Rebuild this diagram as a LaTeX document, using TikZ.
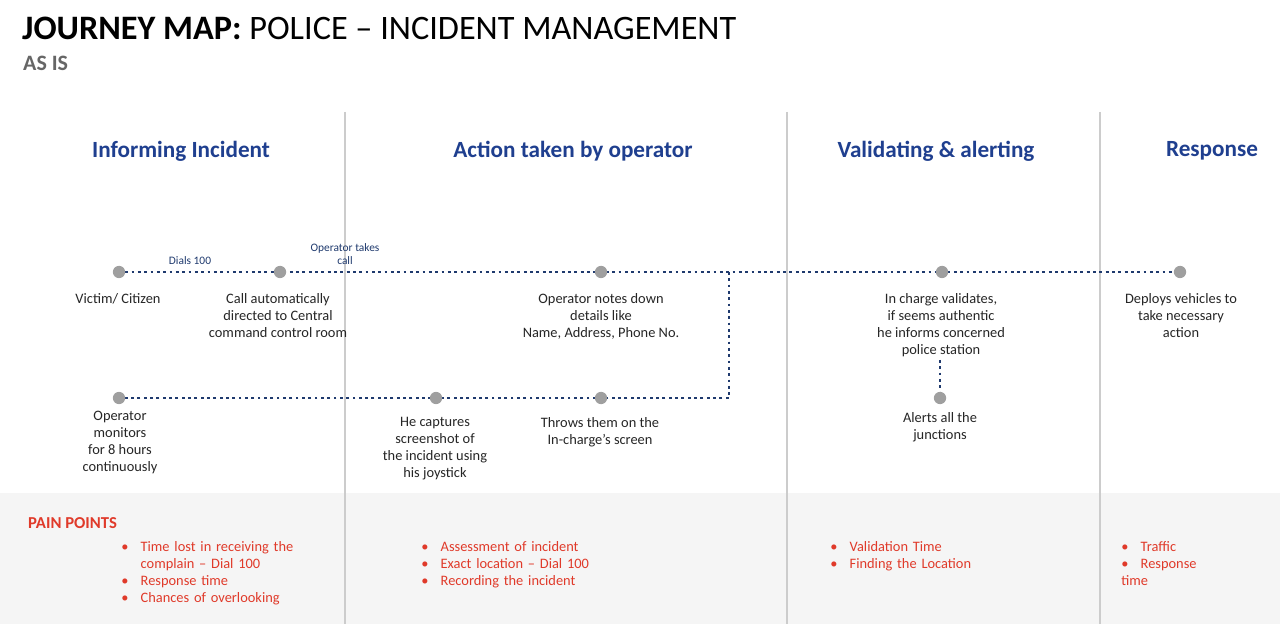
\documentclass[tikz,border=0pt]{standalone}
\usepackage{fontspec}
\setmainfont{Carlito}
\newcommand{\pitem}[1]{\par\hangindent=11pt\hangafter=1\makebox[11pt][l]{\textbullet}#1}
\begin{document}
\begin{tikzpicture}[x=0.02cm,y=-0.02cm,
 dotn/.style={circle,fill=gray!75,inner sep=0pt,minimum size=7pt},
 conn/.style={line width=1.6pt,dotted,color=navy},
 head/.style={font=\fontsize{13.2}{16}\selectfont\bfseries,text=headblue},
 body/.style={font=\fontsize{8.2}{9.7}\selectfont,align=center,text=black!85},
 small/.style={font=\fontsize{6.5}{7.5}\selectfont,align=center,text=navy},
 pain/.style={font=\fontsize{8.2}{9.7}\selectfont,align=left,text=painred,anchor=north west,text width=#1,inner sep=0pt}]
\definecolor{navy}{HTML}{1F3A6E}
\definecolor{headblue}{HTML}{1F3F8F}
\definecolor{painred}{HTML}{E03A2A}
\useasboundingbox (0,0) rectangle (1280,624);
\fill[white] (0,0) rectangle (1280,624);
\fill[black!4] (0,493) rectangle (1280,624);
\foreach \x in {345,787,1100} \draw[black!20,line width=0.8pt] (\x,112) -- (\x,624);
\node[anchor=west,font=\fontsize{19.5}{23}\selectfont] (title) at (16,28) {\textbf{JOURNEY MAP:} POLICE – INCIDENT MANAGEMENT};
\node[anchor=west,font=\fontsize{12.5}{15}\selectfont\bfseries,text=black!60] (sub) at (17,63) {AS IS};
\node[head] (h1) at (181,151) {Informing Incident};
\node[head] (h2) at (573,151) {Action taken by operator};
\node[head] (h3) at (936,151) {Validating \& alerting};
\node[head] (h4) at (1212,151) {Response};
\coordinate (j1) at (729,272);
\coordinate (j2) at (729,398);
\coordinate (v1) at (940,360);
\draw[conn] (119,272) -- (1180,272);
\draw[conn] (j1) -- (j2) -- (119,398);
\draw[conn] (v1) -- (940,398);
\node[dotn] (a) at (119,272) {};
\node[dotn] (b) at (280,272) {};
\node[dotn] (c) at (601,272) {};
\node[dotn] (d) at (942,272) {};
\node[dotn] (e) at (1180,272) {};
\node[dotn] (f) at (119,398) {};
\node[dotn] (g) at (436,398) {};
\node[dotn] (h) at (601,398) {};
\node[dotn] (k) at (940,398) {};
\node[small] (l1) at (190,261) {Dials 100};
\node[small] (l2) at (345,254) {Operator takes\\call};
\node[body,anchor=north] at (118,287) {Victim/ Citizen};
\node[body,anchor=north] at (278,287) {Call automatically\\directed to Central\\command control room};
\node[body,anchor=north] at (601,287) {Operator notes down\\details like\\Name, Address, Phone No.};
\node[body,anchor=north] at (941,287) {In charge validates,\\if seems authentic\\he informs concerned\\police station};
\node[body,anchor=north] at (1181,287) {Deploys vehicles to\\take necessary\\action};
\node[body,anchor=north] at (120,405) {Operator\\monitors\\for 8 hours\\continuously};
\node[body,anchor=north] at (435,411) {He captures\\screenshot of\\the incident using\\his joystick};
\node[body,anchor=north] at (600,411) {Throws them on the\\In-charge’s screen};
\node[body,anchor=north] at (940,406) {Alerts all the\\junctions};
\node[anchor=west,font=\fontsize{9.5}{11}\selectfont\bfseries,text=painred] (pp) at (22,523) {PAIN POINTS};
\node[pain=3.5cm] at (121,534) {\pitem{Time lost in receiving the complain – Dial 100}\pitem{Response time}\pitem{Chances of overlooking}};
\node[pain=4cm] at (421,534) {\pitem{Assessment of incident}\pitem{Exact location – Dial 100}\pitem{Recording the incident}};
\node[pain=3cm] at (830,534) {\pitem{Validation Time}\pitem{Finding the Location}};
\node[pain=1.6cm] at (1121,534) {\pitem{Traffic}\pitem{Response time}};
\end{tikzpicture}
\end{document}
